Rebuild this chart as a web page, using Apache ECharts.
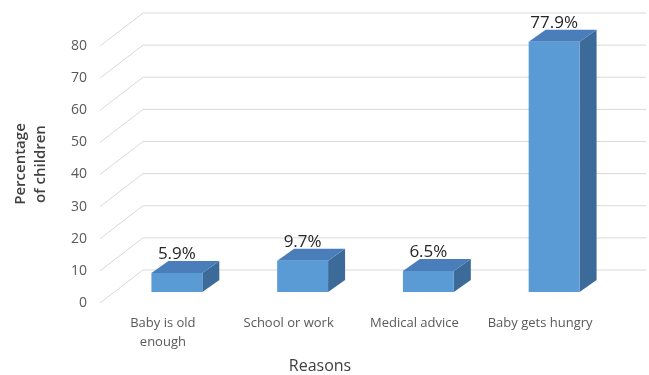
<!DOCTYPE html>
<html>
<head>
<meta charset="utf-8">
<title>Reasons</title>
<script src="https://cdn.jsdelivr.net/npm/echarts@6/dist/echarts.min.js"></script>
<style>
  html, body { margin: 0; padding: 0; background: #ffffff; }
  #chart { width: 649px; height: 375px; }
</style>
</head>
<body>
<div id="chart"></div>
<script>
// Categories and values
const categories = ['Baby is old\nenough', 'School or work', 'Medical advice', 'Baby gets hungry'];
const percentages = [5.9, 9.7, 6.5, 77.9];
const yTicks = [0, 10, 20, 30, 40, 50, 60, 70, 80];

// Pseudo-3D projection: the grid is the front plane of the floor;
// the back wall lies one "depth" behind it.
const WALL_DX = 43, WALL_DY = -33;   // front plane -> back wall
const BAR_DX = 14, BAR_DY = -11;     // front plane -> front face of bars
const DEPTH_DX = 17, DEPTH_DY = -12; // bar front face -> bar back face

const FONT = '"Open Sans", "Noto Sans", sans-serif';

const chart = echarts.init(document.getElementById('chart'), null, { renderer: 'canvas' });

function renderWall(params, api) {
  const cs = params.coordSys;
  const v = api.value(1);
  const yf = api.coord([0, v])[1];
  const x0 = cs.x, xR = cs.x + cs.width;
  return {
    type: 'polyline',
    shape: { points: [[x0, yf], [x0 + WALL_DX, yf + WALL_DY], [xR + WALL_DX, yf + WALL_DY]] },
    style: { stroke: '#d9d9d9', lineWidth: 1, fill: null },
    silent: true
  };
}

function renderBar(params, api) {
  const i = api.value(0);
  const v = api.value(1);
  const base = api.coord([i, 0]);
  const top = api.coord([i, v]);
  const bw = api.size([1, 0])[0] * 0.405;
  const fx = base[0] + BAR_DX;
  const fy0 = base[1] + BAR_DY;
  const fy1 = top[1] + BAR_DY;
  const xl = fx - bw / 2, xr = fx + bw / 2;
  return {
    type: 'group',
    children: [
      {
        type: 'polygon',
        shape: { points: [[xr, fy1], [xr + DEPTH_DX, fy1 + DEPTH_DY], [xr + DEPTH_DX, fy0 + DEPTH_DY], [xr, fy0]] },
        style: { fill: '#3d6b99' }
      },
      {
        type: 'polygon',
        shape: { points: [[xl, fy1], [xr, fy1], [xr + DEPTH_DX, fy1 + DEPTH_DY], [xl + DEPTH_DX, fy1 + DEPTH_DY]] },
        style: { fill: '#4a7ebb' }
      },
      {
        type: 'rect',
        shape: { x: xl, y: fy1, width: bw, height: fy0 - fy1 },
        style: { fill: '#5b9bd5' }
      },
      {
        type: 'text',
        style: {
          x: fx, y: fy1 - 19,
          text: v.toFixed(1) + '%',
          align: 'center', verticalAlign: 'middle',
          font: '17px ' + FONT,
          fill: '#262626'
        }
      }
    ]
  };
}

chart.setOption({
  animation: false,
  backgroundColor: '#ffffff',
  grid: { left: 100, right: 46, top: 46, bottom: 72 },
  xAxis: {
    type: 'category',
    data: categories,
    axisLine: { show: false },
    axisTick: { show: false },
    splitLine: { show: false },
    axisLabel: {
      interval: 0, margin: 11,
      color: '#595959', fontSize: 13, lineHeight: 19,
      fontFamily: FONT
    }
  },
  yAxis: {
    type: 'value',
    min: 0, max: 80, interval: 10,
    axisLine: { show: false },
    axisTick: { show: false },
    splitLine: { show: false },
    axisLabel: {
      margin: 13, color: '#595959', fontSize: 14, fontFamily: FONT
    }
  },
  graphic: [
    {
      type: 'text',
      x: 31, y: 164, rotation: Math.PI / 2,
      style: {
        text: 'Percentage\nof children',
        align: 'center', verticalAlign: 'middle',
        font: '600 15px ' + FONT, lineHeight: 20,
        fill: '#404040'
      }
    },
    {
      type: 'text',
      x: 320, y: 366,
      style: {
        text: 'Reasons',
        align: 'center', verticalAlign: 'middle',
        font: '16px ' + FONT,
        fill: '#404040'
      }
    }
  ],
  series: [
    {
      type: 'custom',
      name: 'wall',
      z: 1,
      silent: true,
      renderItem: renderWall,
      encode: { x: 0, y: 1 },
      data: yTicks.map(v => [0, v])
    },
    {
      type: 'custom',
      name: 'Percentage of children',
      z: 2,
      renderItem: renderBar,
      encode: { x: 0, y: 1 },
      data: percentages.map((v, i) => [i, v])
    }
  ]
});
</script>
</body>
</html>
